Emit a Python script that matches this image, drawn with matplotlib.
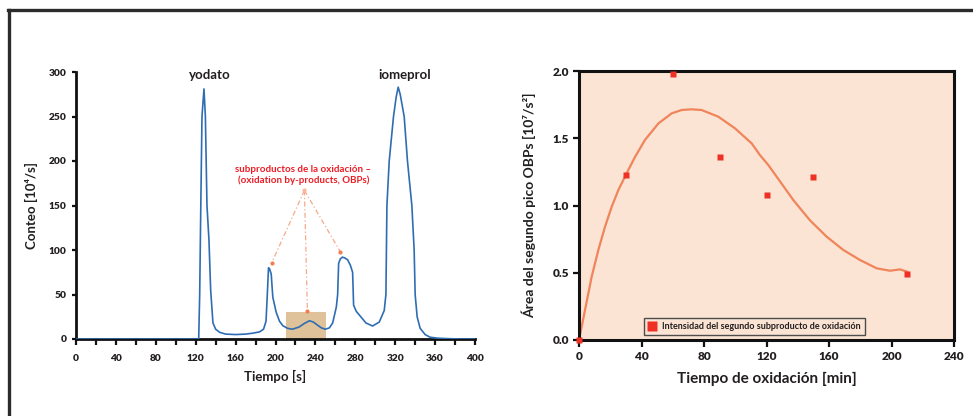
import numpy as np
import matplotlib
matplotlib.use('Agg')
import matplotlib.pyplot as plt
from matplotlib.lines import Line2D
from matplotlib.patches import Rectangle
from matplotlib.ticker import MultipleLocator, FormatStrFormatter

plt.rcParams['font.family'] = ['Lato', 'DejaVu Sans']
plt.rcParams['font.weight'] = 'bold'

# --- chromatogram (left) ---
tiempo = [0, 123, 124, 125, 126.3, 128.3, 129.7, 131.3, 133.3, 135, 137.3, 140, 144, 150, 160,
          170, 177, 184, 188, 190.5, 192, 193, 194, 195.7, 197.3, 200.7, 204, 207.3, 212, 217,
          223.7, 229, 234, 238, 242.3, 246, 250, 254, 257.3, 261, 262.3, 263.3, 265, 267, 269.5,
          272.3, 275, 277.3, 278.3, 281, 284, 290.7, 297.3, 304, 309, 310.7, 311.7, 314, 318.3, 321,
          323, 325, 329, 332.3, 336.7, 339, 340, 342, 345, 350, 355, 362, 370, 385, 400]
conteo = [0, 0, 50, 140, 250, 281, 250, 150, 111, 55, 18, 11, 7.5, 5.5, 5,
          5.5, 6.5, 8, 11, 20, 55, 80, 79, 73, 47, 30, 20, 15, 12, 11,
          13.5, 17.5, 20.5, 19, 15.4, 12.5, 11, 12.5, 18, 36, 50, 85, 90, 92, 91,
          89, 83, 75, 38, 31, 27, 18, 14.6, 19, 32, 50, 150, 200, 250, 272,
          283, 275, 250, 200, 150, 100, 50, 25, 12, 5, 2, 1, 0.5, 0, 0]

picos = [('yodato', 134, 297), ('iomeprol', 329, 297)]
anot_origen = (229, 167)
anot_destinos = [(196, 85), (265, 98), (232, 31)]
zona_obp = (211, 251, 30)   # t0, t1, altura

# --- oxidation kinetics (right) ---
t_ox = [0, 30, 60, 90, 120, 150, 210]
area = [0.0, 1.23, 1.98, 1.36, 1.08, 1.21, 0.49]
ajuste_t = [0, 3.8, 8.1, 12.4, 16.6, 20.9, 25.2, 30.5, 35.8, 42.2, 50.8, 59.3, 65.7, 72, 78.5,
            89.2, 99.8, 110.5, 115.8, 121.2, 126.5, 137.2, 147.8, 158.5, 169.2, 179.8, 190.5,
            199, 205.4, 210]
ajuste_v = [0, 0.22, 0.47, 0.67, 0.84, 0.99, 1.115, 1.24, 1.36, 1.487, 1.61, 1.685, 1.71, 1.715,
            1.71, 1.66, 1.574, 1.462, 1.375, 1.30, 1.214, 1.04, 0.89, 0.768, 0.669, 0.595, 0.533,
            0.515, 0.525, 0.508]

W, H = 973, 416
fig = plt.figure(figsize=(W / 100, H / 100), dpi=100)
fig.patch.set_facecolor('white')

# frame lines of the figure
fig.add_artist(Line2D([8 / W, 1], [1 - 10 / H] * 2, transform=fig.transFigure, color='#2b2b2b', lw=2.4))
fig.add_artist(Line2D([9 / W, 9 / W], [0, 1 - 10 / H], transform=fig.transFigure, color='#2b2b2b', lw=2.4))

txt = '#231f20'
roj = '#ed1c24'

# ---------------- left chart ----------------
ax1 = fig.add_axes([76 / W, 77 / H, 399 / W, 267 / H])
ax1.add_patch(Rectangle((zona_obp[0], 0), zona_obp[1] - zona_obp[0], zona_obp[2],
                        facecolor='#d6ae78', alpha=0.75, edgecolor='none', zorder=1))
ax1.plot(tiempo, conteo, color='#2f6db3', lw=1.2, zorder=3)

for (tx, ty) in anot_destinos:
    ax1.plot([anot_origen[0], tx], [anot_origen[1], ty], color='#f6a98a', lw=0.9,
             linestyle=(0, (4, 2, 1, 2)), zorder=2)
    ax1.plot(tx, ty, 'o', color='#f47c50', ms=3, mec='none', zorder=4)
ax1.plot(*anot_origen, 'o', color='#f9b79c', ms=3, mec='none', zorder=4)

ax1.text(228, 184, 'subproductos de la oxidación –\n(oxidation by-products, OBPs)',
         color=roj, fontsize=7, fontweight='bold', ha='center', va='center', linespacing=1.15)
for name, px, py in picos:
    ax1.text(px, py, name, color=txt, fontsize=9.5, fontweight='bold', ha='center', va='center')

ax1.set_xlim(0, 400)
ax1.set_ylim(0, 300)
ax1.xaxis.set_major_locator(MultipleLocator(40))
ax1.xaxis.set_minor_locator(MultipleLocator(20))
ax1.yaxis.set_major_locator(MultipleLocator(50))
for s in ['top', 'right']:
    ax1.spines[s].set_visible(False)
for s in ['left', 'bottom']:
    ax1.spines[s].set_linewidth(2)
    ax1.spines[s].set_color('#111')
ax1.tick_params(axis='both', which='both', direction='out', width=1.6, color='#111',
                labelsize=7.3, labelcolor=txt)
ax1.tick_params(axis='x', which='both', length=4, pad=7)
ax1.tick_params(axis='y', length=3, pad=4)
for lb in ax1.get_xticklabels() + ax1.get_yticklabels():
    lb.set_fontweight('heavy')
ax1.set_xlabel('Tiempo [s]', fontsize=9.5, fontweight='bold', color=txt)
ax1.set_ylabel('Conteo [10⁴/s]', fontsize=9.5, fontweight='bold', color=txt)
ax1.xaxis.set_label_coords(0.5, -0.115)
ax1.yaxis.set_label_coords(-0.095, 0.5)

# ---------------- right chart ----------------
ax2 = fig.add_axes([579 / W, 76 / H, 375 / W, 269 / H])
ax2.set_facecolor('#fbe4d3')
ax2.plot(ajuste_t, ajuste_v, color='#f0845a', lw=1.6, zorder=2, solid_joinstyle='round')
ax2.plot(t_ox, area, 's', color='#ee3124', ms=5, mec='none', zorder=3, clip_on=False,
         label='Intensidad del segundo subproducto de oxidación')
ax2.set_xlim(0, 240)
ax2.set_ylim(0, 2.0)
ax2.xaxis.set_major_locator(MultipleLocator(40))
ax2.yaxis.set_major_locator(MultipleLocator(0.5))
ax2.yaxis.set_major_formatter(FormatStrFormatter('%.1f'))
for s in ax2.spines.values():
    s.set_linewidth(2.2)
    s.set_color('#111')
ax2.tick_params(axis='both', direction='out', width=1.6, color='#111', labelsize=8.5, labelcolor=txt)
ax2.tick_params(axis='x', length=5, pad=3)
ax2.tick_params(axis='y', length=4, pad=3)
for lb in ax2.get_xticklabels() + ax2.get_yticklabels():
    lb.set_fontweight('heavy')
ax2.set_xlabel('Tiempo de oxidación [min]', fontsize=11, fontweight='bold', color=txt)
ax2.set_ylabel('Área del segundo pico OBPs [10⁷/s²]', fontsize=10, fontweight='bold', color=txt)
ax2.xaxis.set_label_coords(0.5, -0.12)
ax2.yaxis.set_label_coords(-0.115, 0.5)

leg = ax2.legend(loc='lower left', bbox_to_anchor=(0.173, 0.019), fontsize=6.5, frameon=True,
                 fancybox=False, handlelength=0.8, handletextpad=0.8, borderpad=0.45,
                 borderaxespad=0, markerscale=1.3)
leg.get_frame().set_edgecolor('#4d4d4d')
leg.get_frame().set_linewidth(1)
leg.get_frame().set_facecolor('#fbe4d3')
leg.get_frame().set_alpha(1)
for t in leg.get_texts():
    t.set_fontweight('bold')
    t.set_color(txt)

fig.savefig('out.png', dpi=100)
